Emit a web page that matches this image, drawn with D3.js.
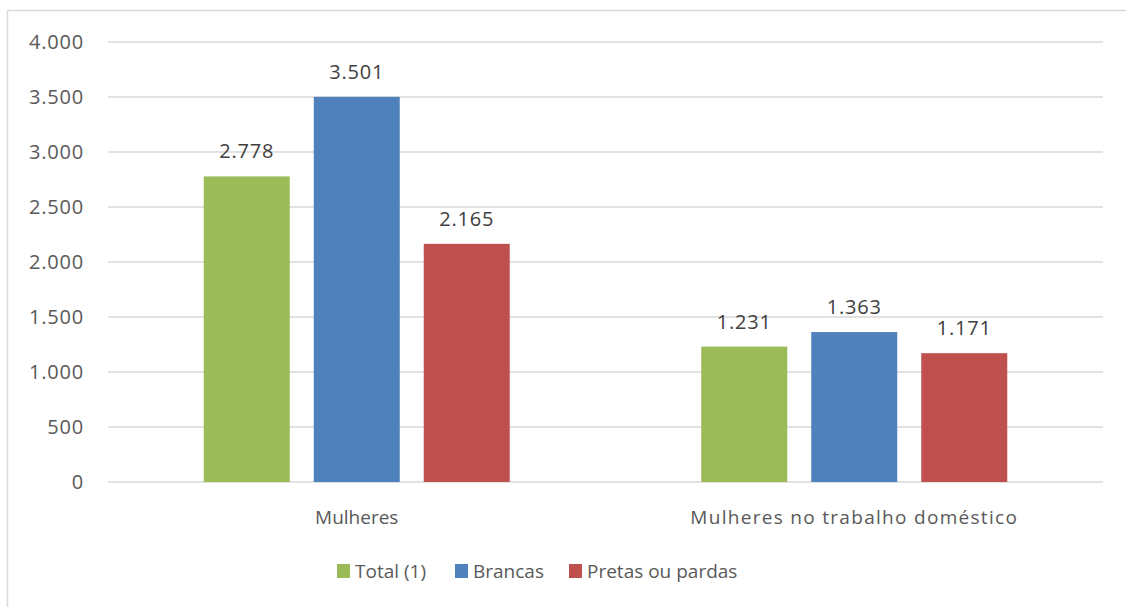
<!DOCTYPE html>
<html>
<head>
<meta charset="utf-8">
<script src="https://cdn.jsdelivr.net/npm/d3@7"></script>
<style>
body { margin: 0; background: #fff; }
text { font-family: "Open Sans", "Noto Sans", sans-serif; fill: #595959; }
</style>
</head>
<body>
<script>
var w = 1126;
var h = 607;

var categories = ['Mulheres', 'Mulheres no trabalho doméstico'];
var series = ['Total (1)', 'Brancas', 'Pretas ou pardas'];
var colors = ['#9BBB59', '#4F81BD', '#C0504D'];
var total = [2778, 1231];
var brancas = [3501, 1363];
var pretas = [2165, 1171];
var yTicks = [0, 500, 1000, 1500, 2000, 2500, 3000, 3500, 4000];

var values = [total, brancas, pretas];

var svg = d3.select('body')
            .append('svg')
            .attr('width', w)
            .attr('height', h);

svg.append('rect')
   .attr('x', 7.5)
   .attr('y', 10.5)
   .attr('width', w + 10)
   .attr('height', h + 10)
   .attr('fill', 'white')
   .attr('stroke', '#d9d9d9')
   .attr('stroke-width', 1.5);

var plotL = 108, plotR = 1103, plotT = 42, plotB = 482;
var groupW = 306;

var x0 = d3.scaleBand().domain(categories).range([plotL, plotR]);
var x1 = d3.scaleBand().domain(series).range([0, groupW]).paddingInner(24 / 110);
var y = d3.scaleLinear().domain([0, 4000]).range([plotB, plotT]);

var fmt = d3.formatLocale({decimal: ',', thousands: '.', grouping: [3], currency: ['', '']}).format(',d');

svg.append('g')
   .selectAll('line')
   .data(yTicks)
   .enter()
   .append('line')
   .attr('x1', plotL)
   .attr('x2', plotR)
   .attr('y1', function(d){ return y(d); })
   .attr('y2', function(d){ return y(d); })
   .attr('stroke', '#d9d9d9')
   .attr('stroke-width', 1.5);

svg.append('g')
   .selectAll('text')
   .data(yTicks)
   .enter()
   .append('text')
   .attr('x', 84)
   .attr('y', function(d){ return y(d) + 7; })
   .attr('text-anchor', 'end')
   .style('font-size', '20px')
   .style('letter-spacing', '0.8px')
   .text(function(d){ return fmt(d); });

var groups = svg.selectAll('.grp')
   .data(categories)
   .enter()
   .append('g')
   .attr('transform', function(d){ return 'translate(' + (x0(d) + (x0.bandwidth() - groupW) / 2) + ',0)'; });

groups.selectAll('rect')
   .data(function(d, i){ return series.map(function(s, j){ return {s: s, v: values[j][i], c: colors[j]}; }); })
   .enter()
   .append('rect')
   .attr('x', function(d){ return x1(d.s); })
   .attr('width', x1.bandwidth())
   .attr('y', function(d){ return y(d.v); })
   .attr('height', function(d){ return plotB - y(d.v); })
   .attr('fill', function(d){ return d.c; });

groups.selectAll('.lbl')
   .data(function(d, i){ return series.map(function(s, j){ return {s: s, v: values[j][i]}; }); })
   .enter()
   .append('text')
   .attr('x', function(d){ return x1(d.s) + x1.bandwidth() / 2; })
   .attr('y', function(d){ return y(d.v) - 18; })
   .attr('text-anchor', 'middle')
   .style('font-size', '20px')
   .style('letter-spacing', '0.8px')
   .style('fill', '#404040')
   .text(function(d){ return fmt(d.v); });

svg.append('g')
   .selectAll('text')
   .data(categories)
   .enter()
   .append('text')
   .attr('x', function(d){ return x0(d) + x0.bandwidth() / 2; })
   .attr('y', 524)
   .attr('text-anchor', 'middle')
   .style('font-size', '19px')
   .style('letter-spacing', function(d, i){ return i ? '1.3px' : '0px'; })
   .text(function(d){ return d; });

var legendX = [337, 455, 569];
var legend = svg.append('g')
   .selectAll('g')
   .data(series)
   .enter()
   .append('g')
   .attr('transform', function(d, i){ return 'translate(' + legendX[i] + ',564)'; });

legend.append('rect')
   .attr('width', 13)
   .attr('height', 14)
   .attr('fill', function(d, i){ return colors[i]; });

legend.append('text')
   .attr('x', 18)
   .attr('y', 14)
   .style('font-size', '19px')
   .text(function(d){ return d; });
</script>
</body>
</html>
